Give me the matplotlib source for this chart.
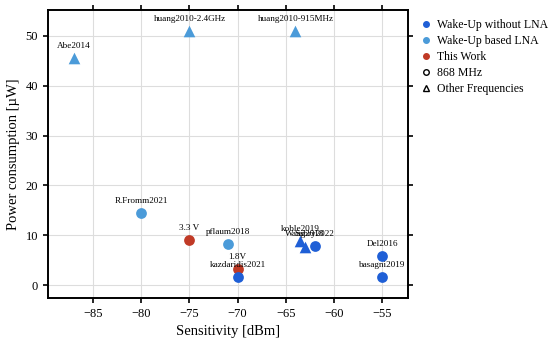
import matplotlib.pyplot as plt
from matplotlib.lines import Line2D

plt.rcParams['font.family'] = ['Liberation Serif', 'DejaVu Serif']

# data
labels = ['Abe2014', 'huang2010-2.4GHz', 'huang2010-915MHz', 'R.Fromm2021', 'pflaum2018',
          '3.3 V', '1.8V', 'kazdaridis2021', 'koble2019', 'Wang2018', 'Sabry2022',
          'Del2016', 'basagni2019']
sensitivity = [-87, -75, -64, -80, -71, -75, -70, -70, -63.5, -63, -62, -55, -55]
power = [45.5, 51, 51, 14.4, 8.2, 9.0, 3.2, 1.6, 8.8, 7.7, 7.8, 5.8, 1.6]
group = ['lna', 'lna', 'lna', 'lna', 'lna', 'work', 'work', 'nolna', 'nolna', 'nolna', 'nolna',
         'nolna', 'nolna']
is_868 = [False, False, False, True, True, True, True, True, False, False, True, True, True]

colors = {'nolna': '#1f5fd6', 'lna': '#4b9bd9', 'work': '#c03a26'}
xticks = [-85, -80, -75, -70, -65, -60, -55]
yticks = [0, 10, 20, 30, 40, 50]

fig = plt.figure(figsize=(5.5, 3.43), dpi=100)
ax = fig.add_axes([0.087, 0.131, 0.655, 0.84])

for lab, x, y, g, c868 in zip(labels, sensitivity, power, group, is_868):
    ax.scatter(x, y, s=60 if c868 else 70, marker='o' if c868 else '^',
               color=colors[g], zorder=3, linewidths=0)
    ax.annotate(lab, (x, y), xytext=(0, 6), textcoords='offset points',
                ha='center', va='bottom', fontsize=6.6, zorder=4)

ax.set_xlim(-89.7, -52.3)
ax.set_ylim(-2.6, 55.2)
ax.set_xticks(xticks)
ax.set_yticks(yticks)
ax.set_xticklabels([f'\u2212{abs(v)}' for v in xticks])
ax.grid(True, color='#dddddd', linewidth=0.8, zorder=0)
ax.set_axisbelow(True)
ax.tick_params(direction='out', length=3.5, width=1.2, labelsize=9, top=True, right=True,
               labeltop=False, labelright=False)
for sp in ax.spines.values():
    sp.set_linewidth(1.4)

ax.set_xlabel('Sensitivity [dBm]', fontsize=10.5)
ax.set_ylabel('Power consumption [\u00b5W]', fontsize=10.5)

handles = [
    Line2D([], [], marker='o', ls='', color=colors['nolna'], markersize=4, label='Wake-Up without LNA'),
    Line2D([], [], marker='o', ls='', color=colors['lna'], markersize=4, label='Wake-Up based LNA'),
    Line2D([], [], marker='o', ls='', color=colors['work'], markersize=4, label='This Work'),
    Line2D([], [], marker='o', ls='', mfc='none', mec='black', markersize=4, label='868 MHz'),
    Line2D([], [], marker='^', ls='', mfc='none', mec='black', markersize=4, label='Other Frequencies'),
]
fig.legend(handles=handles, loc='upper left', bbox_to_anchor=(0.742, 0.975), frameon=False,
           fontsize=8.5, handletextpad=0.35, labelspacing=0.33, handlelength=1.2)

fig.savefig('out.png', dpi=100)
